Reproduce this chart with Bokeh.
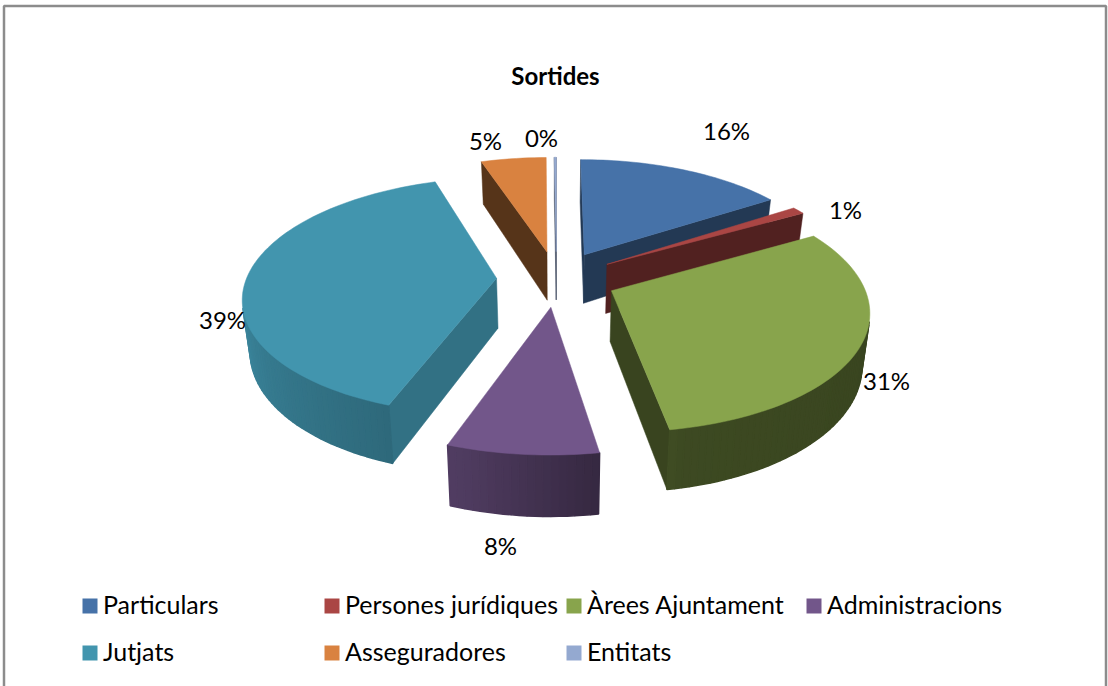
import numpy as np
from bokeh.plotting import figure
from bokeh.models import ColumnDataSource, Range1d
from bokeh.core.properties import value
from bokeh.embed import file_html
from bokeh.resources import INLINE

title = "Sortides"
categories = ["Particulars", "Persones jurídiques", "Àrees Ajuntament", "Administracions",
              "Jutjats", "Asseguradores", "Entitats"]
values = [15.7, 1.0, 30.3, 8.0, 39.1, 4.9, 0.15]
colors = ["#4672a8", "#aa4644", "#88a44c", "#72568a", "#4295ae", "#d98240", "#94a9d0"]
wall_shade = [0.50, 0.48, 0.42, 0.50, 0.76, 0.40, 0.50]

W, H = 1108, 686
FONT = "Lato"
# layout of the projected pie
CX, CY, RX, RY, K, DEPTH, EXPLODE, SHRINK = 556.0, 278.0, 250.0, 116.0, 0.15, 50.0, 0.24, 0.975
# label layout (x centre, y centre) for each category
label_pos = [(726, 130), (845, 209), (886, 380), (500, 545), (222, 319), (485, 140), (541, 137)]
legend_x = [82, 324, 566, 806, 82, 324, 566]
legend_y = [605.5, 605.5, 605.5, 605.5, 652.5, 652.5, 652.5]


def proj(u, v, low=False):
    w = 1 + K * v
    x = CX + RX * u / w
    y = CY - RY * v / w
    if low:
        x = CX + (x - CX) * SHRINK
        y = y + DEPTH / w
    return x, y


def scale(col, f):
    c = [int(col[i:i + 2], 16) for i in (1, 3, 5)]
    return "#%02x%02x%02x" % tuple(int(min(255, a * f)) for a in c)


def rim_shade(deg):
    return float(np.interp(deg, [100, 168, 197, 270, 300], [0.42, 0.45, 0.70, 0.93, 0.95]))


def quad(a, b):
    pts = [proj(*a), proj(*b), proj(*b, low=True), proj(*a, low=True)]
    return [p[0] for p in pts], [p[1] for p in pts]


def area(xs, ys):
    return 0.5 * sum(xs[i] * ys[(i + 1) % len(xs)] - xs[(i + 1) % len(xs)] * ys[i] for i in range(len(xs)))


total = sum(values)
edges = np.cumsum([0] + values) / total * 360.0

slices = []
for i, cat in enumerate(categories):
    a0, a1 = edges[i], edges[i + 1]
    mid = np.radians((a0 + a1) / 2)
    slices.append((np.cos(mid), i, a0, a1, mid))
slices.sort(key=lambda s: -s[0])

xs, ys, fills, widths = [], [], [], []
for _, i, a0, a1, mid in slices:
    cu, cv = EXPLODE * np.sin(mid), EXPLODE * np.cos(mid)
    n = max(2, int((a1 - a0) / 1.5) + 1)
    th = np.linspace(a0, a1, n)
    rim = [(cu + np.sin(np.radians(t)), cv + np.cos(np.radians(t))) for t in th]
    col = colors[i]
    # walls: radial faces, wound consistently, drawn only when they face the viewer
    for a, b in [((cu, cv), rim[0]), (rim[-1], (cu, cv))]:
        qx, qy = quad(a, b)
        if area(qx, qy) < 0:
            xs.append(qx); ys.append(qy); fills.append(scale(col, wall_shade[i])); widths.append(0.5)
    for j in range(n - 1):
        qx, qy = quad(rim[j], rim[j + 1])
        if area(qx, qy) < 0:
            xs.append(qx); ys.append(qy); widths.append(1.5)
            fills.append(scale(col, rim_shade((th[j] + th[j + 1]) / 2)))
    top = [proj(cu, cv)] + [proj(*r) for r in rim]
    xs.append([q[0] for q in top]); ys.append([q[1] for q in top]); fills.append(col); widths.append(0.5)

p = figure(width=W, height=H, output_backend="svg", toolbar_location=None,
           x_range=Range1d(0, W), y_range=Range1d(H, 0), min_border=0,
           x_axis_type=None, y_axis_type=None, outline_line_color=None,
           background_fill_color="white", border_fill_color="white")
p.grid.visible = False
p.styles = {"position": "absolute", "left": "0px", "top": "0px"}

# chart frame
p.line([3.5, 3.5, 1105.5, 1105.5], [H, 5.5, 5.5, H], line_color="#8c8c8c", line_width=2.5)

p.patches("xs", "ys", source=ColumnDataSource(dict(xs=xs, ys=ys, c=fills, w=widths)),
          fill_color="c", line_color="c", line_width="w")

p.text([555], [75], text=[title], text_font=value(FONT), text_font_style="bold",
       text_font_size="24px", text_align="center", text_baseline="middle", text_color="black")

labels = ["%d%%" % round(v / total * 100) for v in values]
p.text([q[0] for q in label_pos], [q[1] for q in label_pos], text=labels, text_font=value(FONT),
       text_font_size="24px", text_align="center", text_baseline="middle", text_color="black")

p.quad(left=legend_x, right=[x + 15 for x in legend_x],
       top=[y - 7.5 for y in legend_y], bottom=[y + 7.5 for y in legend_y],
       fill_color=colors, line_color=None)
p.text([x + 20.5 for x in legend_x], [y - 2 for y in legend_y], text=categories, text_font=value(FONT),
       text_font_size="25px", text_align="left", text_baseline="middle", text_color="black")

open("out.html", "w").write(file_html(p, INLINE))
